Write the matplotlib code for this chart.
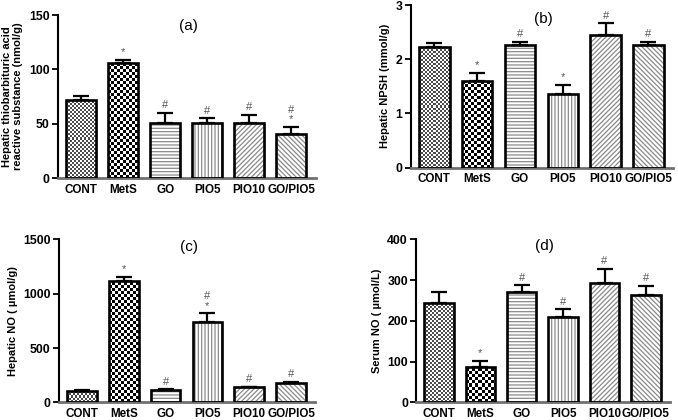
import numpy as np
import matplotlib
matplotlib.use("Agg")
import matplotlib.pyplot as plt

plt.rcParams['font.family'] = ['Liberation Sans', 'DejaVu Sans']

groups = ["CONT", "MetS", "GO", "PIO5", "PIO10", "GO/PIO5"]

tbars_mean = [72, 106, 51, 50.5, 51, 41]
tbars_err = [4, 3, 9, 4.5, 7, 6]
npsh_mean = [2.22, 1.60, 2.27, 1.36, 2.44, 2.26]
npsh_err = [0.08, 0.15, 0.05, 0.17, 0.22, 0.06]
hno_mean = [104, 1119, 113, 736, 138, 178]
hno_err = [8, 37, 6, 83, 7, 7]
sno_mean = [245, 87, 272, 210, 292, 263]
sno_err = [27, 14, 15, 18, 35, 22]

marks_a = ["", "*", "#", "#", "#", "#\n*"]
marks_b = ["", "*", "#", "*", "#", "#"]
marks_c = ["", "*", "#", "#\n*", "#", "#"]
marks_d = ["", "*", "#", "#", "#", "#"]

panels = [
    dict(pos=[0.0855, 0.576, 0.380, 0.388], mean=tbars_mean, err=tbars_err, marks=marks_a,
         ylim=(0, 150), yticks=[0, 50, 100, 150], title="(a)", ty=140,
         ylabel="Hepatic thiobarbituric acid\nreactive substance (nmol/g)"),
    dict(pos=[0.606, 0.601, 0.387, 0.387], mean=npsh_mean, err=npsh_err, marks=marks_b,
         ylim=(0, 3), yticks=[0, 1, 2, 3], title="(b)", ty=2.74,
         ylabel="Hepatic NPSH (mmol/g)"),
    dict(pos=[0.087, 0.042, 0.378, 0.388], mean=hno_mean, err=hno_err, marks=marks_c,
         ylim=(0, 1500), yticks=[0, 500, 1000, 1500], title="(c)", ty=1430,
         ylabel="Hepatic NO ( \u00b5mol/g)"),
    dict(pos=[0.614, 0.042, 0.374, 0.388], mean=sno_mean, err=sno_err, marks=marks_d,
         ylim=(0, 400), yticks=[0, 100, 200, 300, 400], title="(d)", ty=385,
         ylabel="Serum NO ( \u00b5mol/L)"),
]

hatches = [None, None, "-----", "|||||", "///////", "\\\\\\\\\\\\\\"]

fig = plt.figure(figsize=(6.78, 4.2), dpi=100)
plt.rcParams['hatch.linewidth'] = 0.9

def texture(kind, w, h):
    yy, xx = np.mgrid[0:h, 0:w]
    if kind == "fine":
        arr = np.where(((xx // 2) + (yy // 2)) % 2 == 0, 0.3, 1.0)
    else:
        arr = np.where(((xx // 3) + (yy // 3)) % 2 == 0, 0.0, 1.0)
    return arr

for p in panels:
    ax = fig.add_axes(p["pos"])
    x = np.arange(len(groups))
    width = 0.71
    ax.set_xlim(-0.55, 5.58)
    ax.set_ylim(*p["ylim"])
    fills = ax.bar(x, p["mean"], width, color="white", edgecolor="#8a8a8a", linewidth=0, zorder=2)
    for b, h in zip(fills, hatches):
        if h:
            b.set_hatch(h)
    fig.canvas.draw()
    for i, kind in [(0, "fine"), (1, "check")]:
        b = fills[i]
        x0, y0 = b.get_x(), 0
        x1, y1 = b.get_x() + b.get_width(), b.get_height()
        (px0, py0), (px1, py1) = ax.transData.transform([(x0, y0), (x1, y1)])
        wpx, hpx = int(round(px1 - px0)), int(round(py1 - py0))
        arr = texture(kind, max(wpx, 1), max(hpx, 1))
        im = ax.imshow(arr, cmap="gray", vmin=0, vmax=1, extent=[x0, x1, y0, y1],
                       aspect="auto", interpolation="nearest", zorder=2.5, origin="lower")
        im.set_clip_path(b)
    ax.set_xlim(-0.55, 5.58)
    ax.set_ylim(*p["ylim"])
    ax.errorbar(x, p["mean"], yerr=[np.zeros(len(x)), p["err"]], fmt="none",
                ecolor="black", elinewidth=1.6, capsize=5.5, capthick=1.6, zorder=3)
    ax.bar(x, p["mean"], width, fill=False, edgecolor="black", linewidth=1.9, zorder=4)
    for xi, m, e, s in zip(x, p["mean"], p["err"], p["marks"]):
        if s:
            ax.annotate(s, (xi, m + e), xytext=(0, 2), textcoords="offset points",
                        ha="center", va="bottom", fontsize=8, color="#555555",
                        linespacing=0.9)
    ax.text(2.55, p["ty"], p["title"], ha="center", va="center", fontsize=11)
    ax.set_yticks(p["yticks"])
    ax.set_xticks(x)
    ax.set_xticklabels(groups, fontsize=8.4, fontweight="bold")
    ax.tick_params(axis="x", length=0, pad=4)
    ax.tick_params(axis="y", length=4, width=1.3, labelsize=8.8, pad=2)
    for lab in ax.get_yticklabels():
        lab.set_fontweight("bold")
    ax.set_ylabel(p["ylabel"], fontsize=8, fontweight="bold", labelpad=4)
    for s in ["top", "right"]:
        ax.spines[s].set_visible(False)
    ax.spines["left"].set_linewidth(1.5)
    ax.spines["bottom"].set_linewidth(2.0)
    ax.spines["bottom"].set_color("#707070")

fig.savefig("out.png", dpi=100)
